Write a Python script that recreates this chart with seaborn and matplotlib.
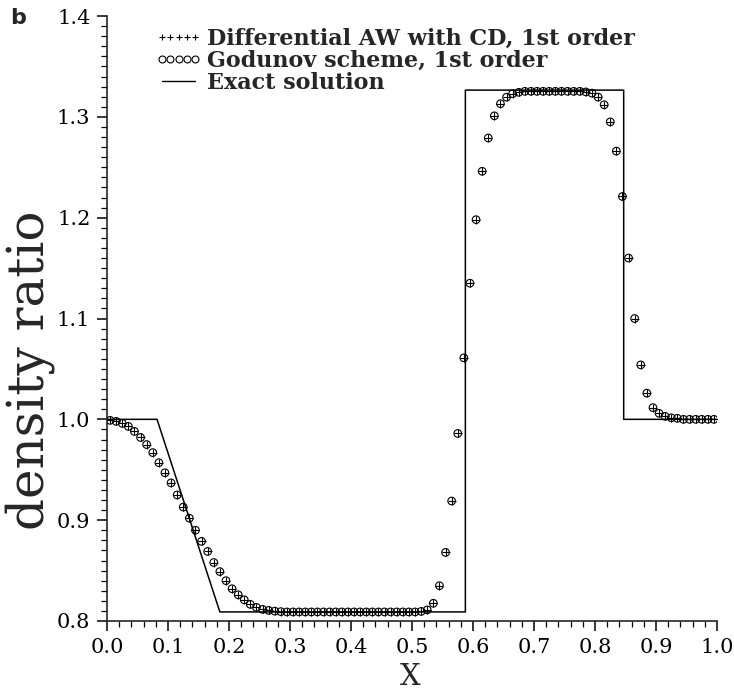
import numpy as np
import pandas as pd
import matplotlib
matplotlib.use("Agg")
import matplotlib.pyplot as plt
from matplotlib.ticker import MultipleLocator, FormatStrFormatter
from matplotlib.lines import Line2D
import seaborn as sns

# ---- data ----
x_cells = [0.005, 0.015, 0.025, 0.035, 0.045, 0.055, 0.065, 0.075, 0.085, 0.095,
           0.105, 0.115, 0.125, 0.135, 0.145, 0.155, 0.165, 0.175, 0.185, 0.195,
           0.205, 0.215, 0.225, 0.235, 0.245, 0.255, 0.265, 0.275, 0.285, 0.295,
           0.305, 0.315, 0.325, 0.335, 0.345, 0.355, 0.365, 0.375, 0.385, 0.395,
           0.405, 0.415, 0.425, 0.435, 0.445, 0.455, 0.465, 0.475, 0.485, 0.495,
           0.505, 0.515, 0.525, 0.535, 0.545, 0.555, 0.565, 0.575, 0.585, 0.595,
           0.605, 0.615, 0.625, 0.635, 0.645, 0.655, 0.665, 0.675, 0.685, 0.695,
           0.705, 0.715, 0.725, 0.735, 0.745, 0.755, 0.765, 0.775, 0.785, 0.795,
           0.805, 0.815, 0.825, 0.835, 0.845, 0.855, 0.865, 0.875, 0.885, 0.895,
           0.905, 0.915, 0.925, 0.935, 0.945, 0.955, 0.965, 0.975, 0.985, 0.995]

rho_godunov = [0.999, 0.998, 0.996, 0.993, 0.988, 0.982, 0.975, 0.967, 0.957, 0.947,
               0.937, 0.925, 0.913, 0.902, 0.890, 0.879, 0.869, 0.858, 0.849, 0.840,
               0.832, 0.826, 0.821, 0.8165, 0.8135, 0.8115, 0.8105, 0.8098, 0.8093, 0.809,
               0.809, 0.809, 0.809, 0.809, 0.809, 0.809, 0.809, 0.809, 0.809, 0.809,
               0.809, 0.809, 0.809, 0.809, 0.809, 0.809, 0.809, 0.809, 0.809, 0.809,
               0.809, 0.8095, 0.811, 0.8176, 0.835, 0.868, 0.919, 0.986, 1.061, 1.135,
               1.198, 1.246, 1.279, 1.301, 1.313, 1.3195, 1.323, 1.3243, 1.3253, 1.3253,
               1.3253, 1.3253, 1.3253, 1.3253, 1.3253, 1.3253, 1.3253, 1.3253, 1.3247, 1.3235,
               1.3196, 1.312, 1.295, 1.266, 1.221, 1.160, 1.100, 1.054, 1.026, 1.0116,
               1.006, 1.003, 1.0015, 1.001, 1.000, 1.000, 1.000, 1.000, 1.000, 1.000]

rho_aw_cd = [0.999, 0.998, 0.996, 0.993, 0.988, 0.982, 0.975, 0.967, 0.957, 0.947,
             0.937, 0.925, 0.913, 0.902, 0.890, 0.879, 0.869, 0.858, 0.849, 0.840,
             0.832, 0.826, 0.821, 0.8165, 0.8135, 0.8115, 0.8105, 0.8098, 0.8093, 0.809,
             0.809, 0.809, 0.809, 0.809, 0.809, 0.809, 0.809, 0.809, 0.809, 0.809,
             0.809, 0.809, 0.809, 0.809, 0.809, 0.809, 0.809, 0.809, 0.809, 0.809,
             0.809, 0.8095, 0.811, 0.8176, 0.835, 0.868, 0.919, 0.986, 1.061, 1.135,
             1.198, 1.246, 1.279, 1.301, 1.313, 1.3195, 1.323, 1.3243, 1.3253, 1.3253,
             1.3253, 1.3253, 1.3253, 1.3253, 1.3253, 1.3253, 1.3253, 1.3253, 1.3247, 1.3235,
             1.3196, 1.312, 1.295, 1.266, 1.221, 1.160, 1.100, 1.054, 1.026, 1.0116,
             1.006, 1.003, 1.0015, 1.001, 1.000, 1.000, 1.000, 1.000, 1.000, 1.000]

x_exact = [0.0, 0.082, 0.185, 0.5875, 0.5875, 0.847, 0.847, 1.0]
rho_exact = [1.0, 1.0, 0.809, 0.809, 1.3265, 1.3265, 1.0, 1.0]

labels = ["Differential AW with CD, 1st order", "Godunov scheme, 1st order", "Exact solution"]
x_ticks = [0.0, 0.1, 0.2, 0.3, 0.4, 0.5, 0.6, 0.7, 0.8, 0.9, 1.0]
y_ticks = [0.8, 0.9, 1.0, 1.1, 1.2, 1.3, 1.4]

# ---- style ----
sns.set_theme(style="ticks")
plt.rcParams["font.family"] = ["DejaVu Serif"]
plt.rcParams["axes.linewidth"] = 1.2

fig = plt.figure(figsize=(7.34, 6.92), dpi=100)
ax = fig.add_axes([107/734, 1 - 621/692, 610/734, 605/692])

df_num = pd.DataFrame({"x": x_cells, "godunov": rho_godunov, "aw": rho_aw_cd})
df_ex = pd.DataFrame({"x": x_exact, "rho": rho_exact})

sns.lineplot(data=df_ex, x="x", y="rho", sort=False, estimator=None,
             color="black", linewidth=1.1, ax=ax)
sns.scatterplot(data=df_num, x="x", y="godunov", marker="o", s=30,
                facecolors="none", edgecolor="black", linewidth=0.8, ax=ax, zorder=3)
sns.scatterplot(data=df_num, x="x", y="aw", marker="+", s=30,
                color="black", linewidth=0.8, ax=ax, zorder=4)

ax.set_xlim(0.0, 1.0)
ax.set_ylim(0.8, 1.4)
ax.set_xticks(x_ticks)
ax.set_yticks(y_ticks)
ax.xaxis.set_major_formatter(FormatStrFormatter("%.1f"))
ax.yaxis.set_major_formatter(FormatStrFormatter("%.1f"))
ax.xaxis.set_minor_locator(MultipleLocator(0.02))
ax.yaxis.set_minor_locator(MultipleLocator(0.01))
ax.tick_params(which="major", direction="out", length=7, width=1.1, labelsize=15,
               colors="black", pad=5)
ax.tick_params(which="minor", direction="out", length=4.5, width=0.9, colors="black")
sns.despine(ax=ax)

ax.set_xlabel("X", fontsize=21, va="baseline")
ax.xaxis.set_label_coords(0.497, -0.106)
ax.set_ylabel("density ratio", fontsize=36)
ax.yaxis.set_label_coords(-0.086, 0.415)

handles = [
    Line2D([], [], ls="none", marker="+", color="black", markersize=5, markeredgewidth=0.8),
    Line2D([], [], ls="none", marker="o", markerfacecolor="none", markeredgecolor="black",
           markersize=5, markeredgewidth=0.8),
    Line2D([], [], ls="-", color="black", linewidth=1.0),
]
leg = ax.legend(handles, labels, loc="upper left", bbox_to_anchor=(0.079, 0.98),
                frameon=False, numpoints=5, handlelength=2.1, handletextpad=0.25,
                labelspacing=0.0, borderpad=0.0, borderaxespad=0.0,
                prop={"family": "DejaVu Serif", "weight": "bold", "size": 16})

fig.text(10/734, 1 - 18/692, "b", fontsize=16, fontweight="bold",
         family="DejaVu Sans", ha="left", va="center")

fig.savefig("out.png", dpi=100)
